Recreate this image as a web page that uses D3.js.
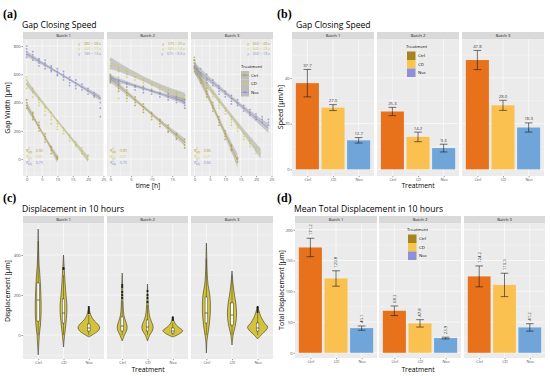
<!DOCTYPE html>
<html><head><meta charset="utf-8">
<script src="https://cdn.jsdelivr.net/npm/d3@7/dist/d3.min.js"></script>
<style>body{margin:0;background:#fff}svg{display:block}</style>
</head><body><svg id="c" width="550" height="376"></svg>
<script>
// ---------------- DATA ----------------
const batches = ["Batch 1", "Batch 2", "Batch 3"];
const treatments = ["Ctrl", "CD", "Noc"];

// (a) gap width points: [time, [values]]
const gapB1Ctrl = [[0,[400,380,360,420]],[2,[330,300,280,320]],[4,[240,220,200,260]],[6,[160,140,120,180]],[8,[90,60,80,40]],[10,[10,0,20]]];
const gapB1CD = [[0,[560,530,500,580]],[2,[480,470,500,440]],[4,[420,400,430,380]],[6,[370,340,360,310]],[8,[330,300,280,250]],[10,[250,270,230,210]],[12,[200,220,180]],[14,[150,170,130]],[16,[100,120,90]],[18,[60,40,80]],[20,[20,0,30]]];
const gapB1Noc = [[0,[780,740,760,720,800]],[2,[720,700,740,760]],[4,[700,680,710,660]],[6,[680,660,700,640]],[8,[650,630,620,660]],[10,[620,600,640,590]],[12,[580,600,560,620]],[14,[560,540,580,520]],[16,[540,520,560,500]],[18,[510,490,530]],[20,[480,460,500]],[22,[450,440,470]],[24,[430,400,300,360]]];
const gapB2Ctrl = [[0,[600,560,540,580]],[2,[520,500,540,480]],[4,[470,450,430,490]],[6,[420,400,380,440]],[8,[370,350,330,390]],[10,[320,300,280,330]],[12,[270,250,230,280]],[14,[220,200,190,240]],[16,[170,150,140,180]],[18,[120,100,80,140]]];
const gapB2CD = [[0,[700,660,640,600]],[2,[640,620,430,580]],[4,[620,600,410,580]],[6,[580,560,420,520]],[8,[560,540,500,520]],[10,[540,520,480,500]],[12,[510,490,460,470]],[14,[490,470,440,450]],[16,[470,450,420,430]],[18,[450,430,400,420]]];
const gapB2Noc = [[0,[590,570,550]],[2,[560,550,530]],[4,[540,530,510]],[6,[520,510,490]],[8,[510,490,470]],[10,[490,480,460]],[12,[470,460,440]],[14,[460,440,420]],[16,[440,420,400]],[18,[420,400,380,360]]];
const gapB3Ctrl = [[0,[720,680,650,700]],[1,[640,600,620]],[2,[580,560,540]],[4,[480,460,440,500]],[6,[380,360,340,400]],[8,[280,260,240,300]],[10,[180,160,140,200]],[12,[90,70,60,100]],[14,[0,-20,10]]];
const gapB3CD = [[0,[680,650,620,700]],[2,[600,580,560]],[4,[540,520,500,480]],[6,[480,460,440]],[8,[420,400,380,360]],[10,[360,340,320]],[12,[300,280,260,240]],[14,[240,220,200]],[16,[180,160,140]],[18,[130,110,90]],[20,[80,60,40]]];
const gapB3Noc = [[0,[700,660,640]],[2,[640,610,590]],[4,[600,570,560,540]],[6,[560,540,520]],[8,[520,500,480,460]],[10,[480,460,440]],[12,[450,430,410,390]],[14,[420,400,380]],[16,[380,360,340]],[18,[350,330,310]],[20,[320,300,280]],[22,[300,280,260]],[24,[280,260,240]]];

// (a) linear fits per batch: [Ctrl, CD, Noc]
const fitIntercept = [[380,540,745],[570,680,575],[660,640,650]];
const fitSlope = [[38,27,13],[25,14,9.3],[48,28,18]];
const fitEnd = [[10,20,24],[18,18,18],[14,21.5,24]];
const fitBand = [[22,16,14],[20,30,16],[35,26,24]];
const fitR2 = [[0.90,0.91,0.79],[0.89,0.71,0.73],[0.86,0.77,0.66]];
const gapYTicks = [0,200,400,600,800];
const gapXTicks = [[0,5,10,15,20,25],[0,5,10,15],[0,5,10,15,20,25]];

// (b) gap closing speed
const speedMean = [[37.7,27.0,12.7],[25.3,14.2,9.3],[47.8,28.0,18.3]];
const speedErr = [[6.0,1.3,1.2],[1.8,2.1,1.7],[4.2,2.2,2.0]];
const speedYTicks = [0,20,40];

// (c) displacement violins: profile [value, relative width]
const vioB1 = [
  [[-100,0],[-50,0.05],[0,0.1],[50,0.2],[100,0.25],[150,0.26],[200,0.24],[250,0.2],[300,0.15],[350,0.08],[400,0.05],[450,0.03],[530,0]],
  [[-60,0],[0,0.1],[50,0.2],[100,0.28],[150,0.3],[200,0.22],[250,0.15],[300,0.1],[350,0.05],[400,0]],
  [[-10,0],[0,0.3],[20,0.8],[35,0.95],[50,0.85],[70,0.5],[90,0.25],[110,0.12],[140,0]]];
const vioB2 = [
  [[-30,0],[0,0.2],[25,0.4],[45,0.43],[70,0.3],[100,0.15],[150,0.08],[200,0.05],[250,0.04],[310,0]],
  [[-30,0],[0,0.2],[20,0.42],[40,0.5],[60,0.4],[90,0.2],[130,0.1],[180,0.05],[255,0]],
  [[-10,0],[0,0.4],[15,0.8],[22,0.87],[35,0.6],[50,0.3],[70,0.1],[90,0]]];
const vioB3 = [
  [[-90,0],[-30,0.05],[0,0.12],[50,0.25],[100,0.33],[150,0.35],[200,0.3],[250,0.15],[300,0.08],[380,0.04],[460,0]],
  [[-50,0],[0,0.1],[50,0.3],[100,0.4],[150,0.35],[200,0.22],[250,0.1],[320,0]],
  [[-20,0],[0,0.3],[25,0.75],[40,0.87],[60,0.6],[90,0.3],[120,0.12],[145,0]]];
// box: [q1, median, q3, whiskerLow, whiskerHigh]
const boxB1 = [[70,175,260,0,470],[60,110,180,0,300],[20,35,55,0,100]];
const boxB2 = [[20,45,90,0,170],[20,40,75,0,150],[10,20,35,0,60]];
const boxB3 = [[60,110,190,0,380],[50,100,160,0,300],[20,35,60,0,110]];
const outB1 = [[],[330,335],[110,120,130,140]];
const outB2 = [[250,240,215,200,185],[220,200,185,165],[75,80,88]];
const outB3 = [[],[],[115,125,135,140]];
const dispYTicks = [0,200,400];

// (d) mean total displacement
const totMean = [[171.2,120.8,40.1],[68.3,47.8,23.9],[124.2,110.3,41.2]];
const totErr = [[15,12.5,3.5],[7.8,6,1.4],[17,19,6]];
const totYTicks = [0,50,100,150,200];

// ---------------- STYLE ----------------
const F = '"Open Sans","DejaVu Sans",sans-serif';
const ptCol = ["#B3A234", "#D5CF58", "#8A8ED3"];
const barCol = ["#E8721C", "#FBC150", "#6FA5D9"];
const legCol = ["#A8841E", "#F6C64C", "#8E90DA"];
const vioFill = "#D3C23C";
const svg = d3.select("#c");

function frame(x0, x1, sTop, top, bot, title) {
  svg.append("rect").attr("x", x0).attr("y", sTop).attr("width", x1 - x0).attr("height", top - sTop).attr("fill", "#D9D9D9");
  svg.append("text").attr("x", (x0 + x1) / 2).attr("y", top - 2).attr("text-anchor", "middle")
    .attr("font-family", F).attr("font-size", 4.2).attr("fill", "#1A1A1A").text(title);
  svg.append("rect").attr("x", x0).attr("y", top).attr("width", x1 - x0).attr("height", bot - top).attr("fill", "#EBEBEB");
}
function hgrid(x0, x1, ys, major, minor) {
  minor.forEach(v => svg.append("line").attr("x1", x0).attr("x2", x1).attr("y1", ys(v)).attr("y2", ys(v)).attr("stroke", "#fff").attr("stroke-width", 0.3));
  major.forEach(v => svg.append("line").attr("x1", x0).attr("x2", x1).attr("y1", ys(v)).attr("y2", ys(v)).attr("stroke", "#fff").attr("stroke-width", 0.6));
}
function vgrid(y0, y1, xs, major, minor) {
  minor.forEach(v => svg.append("line").attr("y1", y0).attr("y2", y1).attr("x1", xs(v)).attr("x2", xs(v)).attr("stroke", "#fff").attr("stroke-width", 0.3));
  major.forEach(v => svg.append("line").attr("y1", y0).attr("y2", y1).attr("x1", xs(v)).attr("x2", xs(v)).attr("stroke", "#fff").attr("stroke-width", 0.6));
}
function styleAxis(g) {
  g.select(".domain").remove();
  g.selectAll("line").attr("stroke", "#333").attr("stroke-width", 0.5);
  g.selectAll("text").attr("font-size", 4.1).attr("fill", "#4D4D4D").attr("font-family", F);
}
function yAxis(x, ys, ticks) {
  const g = svg.append("g").attr("transform", `translate(${x},0)`)
    .call(d3.axisLeft(ys).tickValues(ticks).tickSize(1.5).tickPadding(0.8));
  styleAxis(g);
}
function xAxis(y, xs, ticks, fmt) {
  const ax = d3.axisBottom(xs).tickValues(ticks).tickSize(1.2).tickPadding(0.4);
  if (fmt) ax.tickFormat(fmt);
  const g = svg.append("g").attr("transform", `translate(0,${y})`).call(ax);
  styleAxis(g);
}
function txt(x, y, s, size, opts = {}) {
  const t = svg.append("text").attr("x", x).attr("y", y).attr("font-family", opts.family || F)
    .attr("font-size", size).attr("fill", opts.fill || "#000").text(s);
  if (opts.anchor) t.attr("text-anchor", opts.anchor);
  if (opts.weight) t.attr("font-weight", opts.weight);
  if (opts.rot) t.attr("transform", `rotate(${opts.rot},${x},${y})`);
  return t;
}
function mid(arr) { const m = []; for (let i = 0; i < arr.length - 1; i++) m.push((arr[i] + arr[i + 1]) / 2); return m; }

// panel labels / titles
const serif = '"Liberation Serif","DejaVu Serif",serif';
txt(3, 18, "(a)", 12, {family: serif, weight: "bold"});
txt(22, 28, "Gap Closing Speed", 8.6);
txt(277, 18, "(b)", 12, {family: serif, weight: "bold"});
txt(296, 28, "Gap Closing Speed", 8.6);
txt(3, 202, "(c)", 12, {family: serif, weight: "bold"});
txt(22, 212, "Displacement in 10 hours", 8.6);
txt(277, 202, "(d)", 12, {family: serif, weight: "bold"});
txt(294, 212, "Mean Total Displacement in 10 hours", 8.6);

// ---------------- (a) ----------------
const AF = [[23,104],[107,188],[191,273]];
const aTop = 39, aBot = 176;
const yA = d3.scaleLinear().domain([-120, 850]).range([aBot, aTop]);
const xDomA = [[-1.2,25.2],[-0.8,18.8],[-1.1,25.5]];
const gapPts = [[gapB1Ctrl,gapB1CD,gapB1Noc],[gapB2Ctrl,gapB2CD,gapB2Noc],[gapB3Ctrl,gapB3CD,gapB3Noc]];
batches.forEach((bn, b) => {
  const [x0, x1] = AF[b];
  frame(x0, x1, 32, aTop, aBot, bn);
  const xs = d3.scaleLinear().domain(xDomA[b]).range([x0, x1]);
  hgrid(x0, x1, yA, gapYTicks, [-100,100,300,500,700]);
  vgrid(aTop, aBot, xs, gapXTicks[b], mid(gapXTicks[b]));
  const cid = "clipA" + b;
  svg.append("clipPath").attr("id", cid).append("rect").attr("x", x0).attr("y", aTop).attr("width", x1 - x0).attr("height", aBot - aTop);
  const g = svg.append("g").attr("clip-path", `url(#${cid})`);
  treatments.forEach((tr, i) => {
    gapPts[b][i].forEach(([t, vals]) => vals.forEach(v =>
      g.append("circle").attr("cx", xs(t)).attr("cy", yA(v)).attr("r", 0.9).attr("fill", ptCol[i]).attr("fill-opacity", 0.8)));
  });
  treatments.forEach((tr, i) => {
    const a = fitIntercept[b][i], s = fitSlope[b][i], te = fitEnd[b][i], bw = fitBand[b][i];
    const ts = d3.range(0, te + 0.001, te / 20);
    const hw = t => bw * (0.6 + 0.8 * Math.pow((t - te / 2) / (te / 2), 2));
    g.append("path").datum(ts).attr("fill", "#9A9A9A").attr("fill-opacity", 0.45)
      .attr("d", d3.area().x(t => xs(t)).y0(t => yA(a - s * t - hw(t))).y1(t => yA(a - s * t + hw(t))));
    g.append("path").datum(ts).attr("fill", "none").attr("stroke", ptCol[i]).attr("stroke-width", 0.7)
      .attr("d", d3.line().x(t => xs(t)).y(t => yA(a - s * t)));
  });
  treatments.forEach((tr, i) => {
    txt(x1 - 3, aTop + 6 + i * 5, `y = ${fitIntercept[b][i]} − ${fitSlope[b][i]} x`, 3.6, {anchor: "end", fill: ptCol[i]});
    const t = txt(x0 + 3, 151.5 + i * 6, "", 3.6, {fill: ptCol[i]});
    t.append("tspan").text("R");
    t.append("tspan").attr("font-size", 2.6).attr("dy", -1.3).text("2");
    t.append("tspan").attr("font-size", 2.6).attr("dy", 2.4).attr("dx", -1.6).text("adj");
    t.append("tspan").attr("dy", -1.1).text(` = ${fitR2[b][i].toFixed(2)}`);
  });
  xAxis(aBot, xs, gapXTicks[b]);
});
yAxis(AF[0][0], yA, gapYTicks);
txt(148, 188, "time [h]", 6.8, {anchor: "middle"});
txt(10, 108, "Gap Width [µm]", 7, {anchor: "middle", rot: -90});
// legend (a)
txt(241, 68, "Treatment", 4.3);
treatments.forEach((tr, i) => {
  const y = 71 + i * 8.5;
  svg.append("rect").attr("x", 241).attr("y", y).attr("width", 8).attr("height", 8.5).attr("fill", "#BDBDBD");
  svg.append("line").attr("x1", 241).attr("x2", 249).attr("y1", y + 4.25).attr("y2", y + 4.25).attr("stroke", ptCol[i]).attr("stroke-width", 0.7);
  svg.append("circle").attr("cx", 245).attr("cy", y + 4.25).attr("r", 0.9).attr("fill", ptCol[i]);
  txt(251, y + 5.8, tr, 4.3);
});

// ---------------- (b) ----------------
const BF = [[292,374],[377,459],[462,544]];
const yB = d3.scaleLinear().domain([-2.9, 57]).range([aBot, aTop]);
batches.forEach((bn, b) => {
  const [x0, x1] = BF[b];
  frame(x0, x1, 32, aTop, aBot, bn);
  const xs = d3.scaleLinear().domain([0.4, 3.6]).range([x0, x1]);
  hgrid(x0, x1, yB, speedYTicks, [10,30,50]);
  vgrid(aTop, aBot, xs, [1,2,3], []);
  treatments.forEach((tr, i) => {
    const m = speedMean[b][i], e = speedErr[b][i], c = i + 1;
    svg.append("rect").attr("x", xs(c - 0.45)).attr("width", xs(c + 0.45) - xs(c - 0.45))
      .attr("y", yB(m)).attr("height", yB(0) - yB(m)).attr("fill", barCol[i]);
    const w = 0.15;
    svg.append("path").attr("fill", "none").attr("stroke", "#1a1a1a").attr("stroke-width", 0.6)
      .attr("d", `M${xs(c - w)},${yB(m + e)}H${xs(c + w)}M${xs(c)},${yB(m + e)}V${yB(m - e)}M${xs(c - w)},${yB(m - e)}H${xs(c + w)}`);
    txt(xs(c), yB(m + e) - 2.5, m.toFixed(1), 4.3, {anchor: "middle", fill: "#333"});
  });
  xAxis(aBot, xs, [1,2,3], d => treatments[d - 1]);
});
yAxis(BF[0][0], yB, speedYTicks);
txt(418, 188, "Treatment", 6.8, {anchor: "middle"});
txt(283, 107, "Speed [µm/h]", 7, {anchor: "middle", rot: -90});
function barLegend(x, y) {
  txt(x, y, "Treatment", 4.3);
  treatments.forEach((tr, i) => {
    const yy = y + 3.5 + i * 8.5;
    svg.append("rect").attr("x", x + 1).attr("y", yy).attr("width", 8.5).attr("height", 8.5).attr("fill", legCol[i]);
    txt(x + 12, yy + 5.8, tr, 4.3);
  });
}
barLegend(406, 48);

// ---------------- (c) ----------------
const cTop = 223, cBot = 359;
const yC = d3.scaleLinear().domain([-120, 560]).range([cBot, cTop]);
const vios = [vioB1, vioB2, vioB3], boxes = [boxB1, boxB2, boxB3], outs = [outB1, outB2, outB3];
batches.forEach((bn, b) => {
  const [x0, x1] = AF[b];
  frame(x0, x1, 216, cTop, cBot, bn);
  const xs = d3.scaleLinear().domain([0.4, 3.6]).range([x0, x1]);
  hgrid(x0, x1, yC, dispYTicks, [-100,100,300,500]);
  vgrid(cTop, cBot, xs, [1,2,3], []);
  treatments.forEach((tr, i) => {
    const c = i + 1, half = xs(0.45) - xs(0);
    svg.append("path").datum(vios[b][i]).attr("fill", vioFill).attr("stroke", "#1a1a1a").attr("stroke-width", 0.5)
      .attr("d", d3.area().curve(d3.curveCatmullRom).y(d => yC(d[0])).x0(d => xs(c) - d[1] * half).x1(d => xs(c) + d[1] * half));
    const [q1, md, q3, lo, hi] = boxes[b][i];
    const bw = xs(0.05) - xs(0);
    svg.append("line").attr("x1", xs(c)).attr("x2", xs(c)).attr("y1", yC(lo)).attr("y2", yC(hi)).attr("stroke", "#1a1a1a").attr("stroke-width", 0.4);
    svg.append("rect").attr("x", xs(c) - bw).attr("width", 2 * bw).attr("y", yC(q3)).attr("height", yC(q1) - yC(q3))
      .attr("fill", "#fff").attr("stroke", "#1a1a1a").attr("stroke-width", 0.4);
    svg.append("line").attr("x1", xs(c) - bw).attr("x2", xs(c) + bw).attr("y1", yC(md)).attr("y2", yC(md)).attr("stroke", "#1a1a1a").attr("stroke-width", 0.6);
    outs[b][i].forEach(v => svg.append("circle").attr("cx", xs(c)).attr("cy", yC(v)).attr("r", 1.1).attr("fill", "#1a1a1a"));
  });
  xAxis(cBot, xs, [1,2,3], d => treatments[d - 1]);
});
yAxis(AF[0][0], yC, dispYTicks);
txt(148, 372, "Treatment", 6.8, {anchor: "middle"});
txt(10, 291, "Displacement [µm]", 7, {anchor: "middle", rot: -90});

// ---------------- (d) ----------------
const DF = [[295,377],[379,461],[464,545]];
const dBot = 358;
const yD = d3.scaleLinear().domain([-8.5, 211]).range([dBot, cTop]);
batches.forEach((bn, b) => {
  const [x0, x1] = DF[b];
  frame(x0, x1, 216, cTop, dBot, bn);
  const xs = d3.scaleLinear().domain([0.4, 3.6]).range([x0, x1]);
  hgrid(x0, x1, yD, totYTicks, [25,75,125,175]);
  vgrid(cTop, dBot, xs, [1,2,3], []);
  treatments.forEach((tr, i) => {
    const m = totMean[b][i], e = totErr[b][i], c = i + 1;
    svg.append("rect").attr("x", xs(c - 0.45)).attr("width", xs(c + 0.45) - xs(c - 0.45))
      .attr("y", yD(m)).attr("height", yD(0) - yD(m)).attr("fill", barCol[i]);
    const w = 0.15;
    svg.append("path").attr("fill", "none").attr("stroke", "#1a1a1a").attr("stroke-width", 0.6)
      .attr("d", `M${xs(c - w)},${yD(m + e)}H${xs(c + w)}M${xs(c)},${yD(m + e)}V${yD(m - e)}M${xs(c - w)},${yD(m - e)}H${xs(c + w)}`);
    txt(xs(c) + 1.5, yD(m + e) - 3, m.toFixed(1), 4.3, {fill: "#333", rot: -90});
  });
  xAxis(dBot, xs, [1,2,3], d => treatments[d - 1]);
});
yAxis(DF[0][0], yD, totYTicks);
txt(418, 372, "Treatment", 6.8, {anchor: "middle"});
txt(284, 290, "Total Displacement [µm]", 7, {anchor: "middle", rot: -90});
barLegend(407, 231);
</script></body></html>
